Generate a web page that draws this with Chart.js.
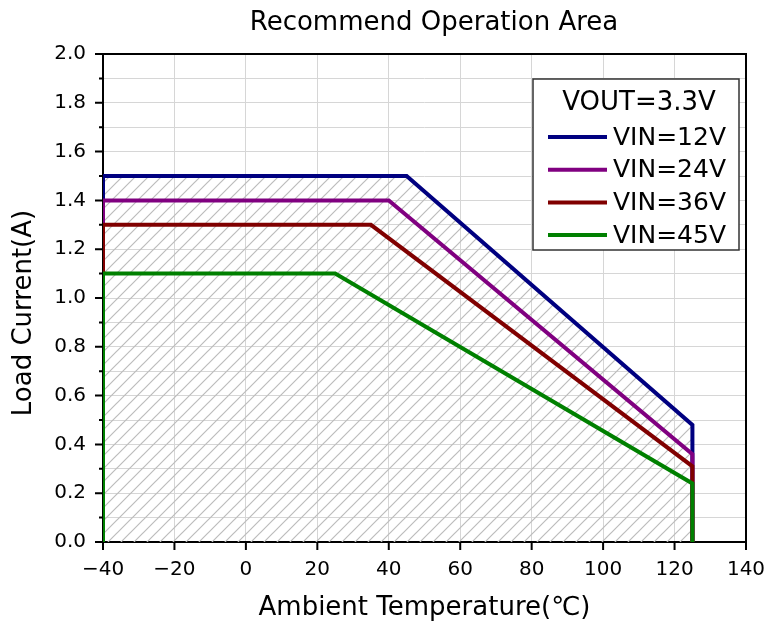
<!DOCTYPE html>
<html>
<head>
<meta charset="utf-8">
<script src="https://cdn.jsdelivr.net/npm/chart.js@4.4.0/dist/chart.umd.min.js"></script>
<style>
  html, body { margin: 0; padding: 0; background: #fff; }
  #wrap { width: 766px; height: 625px; position: relative; }
</style>
</head>
<body>
<div id="wrap"><canvas id="chart"></canvas></div>
<script>
// Dados
const chartTitle = 'Recommend Operation Area';
const legendTitle = 'VOUT=3.3V';
const xTitle = 'Ambient Temperature(℃)';
const yTitle = 'Load Current(A)';

const seriesLabels = ['VIN=12V', 'VIN=24V', 'VIN=36V', 'VIN=45V'];
const seriesColors = ['#000080', '#800080', '#800000', '#008000'];

const vin12Temp = [-40, -40, 45, 125, 125];
const vin12Current = [0, 1.5, 1.5, 0.48, 0];
const vin24Temp = [-40, -40, 40, 125, 125];
const vin24Current = [0, 1.4, 1.4, 0.36, 0];
const vin36Temp = [-40, -40, 35, 125, 125];
const vin36Current = [0, 1.3, 1.3, 0.31, 0];
const vin45Temp = [-40, -40, 25, 125, 125];
const vin45Current = [0, 1.1, 1.1, 0.24, 0];

const xMin = -40, xMax = 140, xStep = 20;
const yMin = 0, yMax = 2.0, yStep = 0.1;

const FONT = "'DejaVu Sans', 'Liberation Sans', sans-serif";
const GRID = '#d6d6d6';

// Hachura diagonal para a área recomendada
const hatch = (() => {
    const s = 13;
    const c = document.createElement('canvas');
    c.width = s; c.height = s;
    const g = c.getContext('2d');
    g.strokeStyle = '#bcbcbc';
    g.lineWidth = 1.2;
    g.beginPath();
    g.moveTo(-1, s + 1); g.lineTo(s + 1, -1);
    g.moveTo(-s / 2 - 1, s / 2 + 1); g.lineTo(s / 2 + 1, -s / 2 - 1);
    g.moveTo(s / 2 - 1, s * 1.5 + 1); g.lineTo(s * 1.5 + 1, s / 2 - 1);
    g.stroke();
    return g.createPattern(c, 'repeat');
})();

const toPoints = (xs, ys) => xs.map((x, i) => ({ x: x, y: ys[i] }));
const allTemps = [vin12Temp, vin24Temp, vin36Temp, vin45Temp];
const allCurrents = [vin12Current, vin24Current, vin36Current, vin45Current];

const datasets = seriesLabels.map((label, i) => ({
    label: label,
    data: toPoints(allTemps[i], allCurrents[i]),
    borderColor: seriesColors[i],
    backgroundColor: i === 0 ? hatch : 'transparent',
    fill: i === 0 ? 'origin' : false,
    borderWidth: 4,
    pointRadius: 0,
    tension: 0,
    borderJoinStyle: 'miter',
    order: seriesLabels.length - i  // verde desenhado por cima
}));

// Moldura, marcas dos eixos, títulos e legenda
const decorPlugin = {
    id: 'decor',
    beforeDatasetsDraw(chart) {
        const { ctx, chartArea: a } = chart;
        ctx.save();
        ctx.strokeStyle = '#000';
        ctx.lineWidth = 2;
        ctx.strokeRect(a.left, a.top, a.right - a.left, a.bottom - a.top);
        ctx.restore();
    },
    afterDraw(chart) {
        const { ctx, chartArea: a, scales } = chart;
        ctx.save();
        ctx.strokeStyle = '#000';
        ctx.lineWidth = 2;
        ctx.beginPath();
        scales.x.ticks.forEach(t => {
            const px = scales.x.getPixelForValue(t.value);
            ctx.moveTo(px, a.bottom); ctx.lineTo(px, a.bottom + 8);
        });
        scales.y.ticks.forEach(t => {
            const py = scales.y.getPixelForValue(t.value);
            const len = Math.round(t.value * 10) % 2 === 0 ? 8 : 4;
            ctx.moveTo(a.left, py); ctx.lineTo(a.left - len, py);
        });
        ctx.stroke();

        ctx.fillStyle = '#000';
        ctx.textAlign = 'center';
        ctx.textBaseline = 'middle';

        // título
        ctx.font = '26px ' + FONT;
        ctx.fillText(chartTitle, 434, 23);

        // título do eixo y
        ctx.save();
        ctx.translate(24, 313);
        ctx.rotate(-Math.PI / 2);
        ctx.fillText(yTitle, 0, 0);
        ctx.restore();

        // legenda
        const bx = 533, by = 79, bw = 206, bh = 171;
        ctx.fillStyle = '#fff';
        ctx.fillRect(bx, by, bw, bh);
        ctx.strokeStyle = '#333';
        ctx.lineWidth = 1.5;
        ctx.strokeRect(bx, by, bw, bh);
        ctx.fillStyle = '#000';
        ctx.font = '26px ' + FONT;
        ctx.fillText(legendTitle, bx + bw / 2 + 3, by + 24);
        ctx.font = '25px ' + FONT;
        ctx.textAlign = 'left';
        chart.data.datasets.forEach((ds, i) => {
            const cy = by + 58 + i * 32.7;
            ctx.strokeStyle = ds.borderColor;
            ctx.lineWidth = 4;
            ctx.beginPath();
            ctx.moveTo(548, cy); ctx.lineTo(607, cy);
            ctx.stroke();
            ctx.fillText(ds.label, 613, cy + 1);
        });
        ctx.restore();
    }
};

new Chart(document.getElementById('chart'), {
    type: 'line',
    data: { datasets: datasets },
    options: {
        responsive: true,
        maintainAspectRatio: false,
        animation: false,
        layout: { padding: { top: 54, right: 20, left: 0, bottom: 0 } },
        plugins: {
            legend: { display: false },
            tooltip: { enabled: false },
            title: { display: false }
        },
        scales: {
            x: {
                type: 'linear',
                min: xMin, max: xMax,
                afterFit: s => { s.height = 83; s.paddingRight = 0; s.paddingLeft = 0; },
                grid: {
                    // só linhas de grade a cada 20 °C
                    color: c => (c.tick && Math.round(c.tick.value) % xStep === 0) ? GRID : 'rgba(0,0,0,0)',
                    lineWidth: 1,
                    drawTicks: false
                },
                border: { display: false },
                ticks: {
                    stepSize: xStep,
                    autoSkip: false,
                    padding: 16,
                    color: '#000',
                    font: { family: FONT, size: 20 },
                    maxRotation: 0,
                    callback: v => String(v).replace('-', '\u2212')
                },
                title: {
                    display: true, text: xTitle, color: '#000',
                    font: { family: FONT, size: 26 },
                    padding: { top: 0, bottom: 1 }
                }
            },
            y: {
                min: yMin, max: yMax,
                afterFit: s => { s.width = 103; s.paddingTop = 0; s.paddingBottom = 0; },
                grid: { color: GRID, lineWidth: 1, drawTicks: false },
                border: { display: false },
                ticks: {
                    stepSize: yStep,
                    autoSkip: false,
                    padding: 17,
                    color: '#000',
                    font: { family: FONT, size: 20 },
                    callback: v => Math.round(v * 10) % 2 === 0 ? v.toFixed(1) : ''
                },
                title: { display: false }
            }
        }
    },
    plugins: [decorPlugin]
});
</script>
</body>
</html>
